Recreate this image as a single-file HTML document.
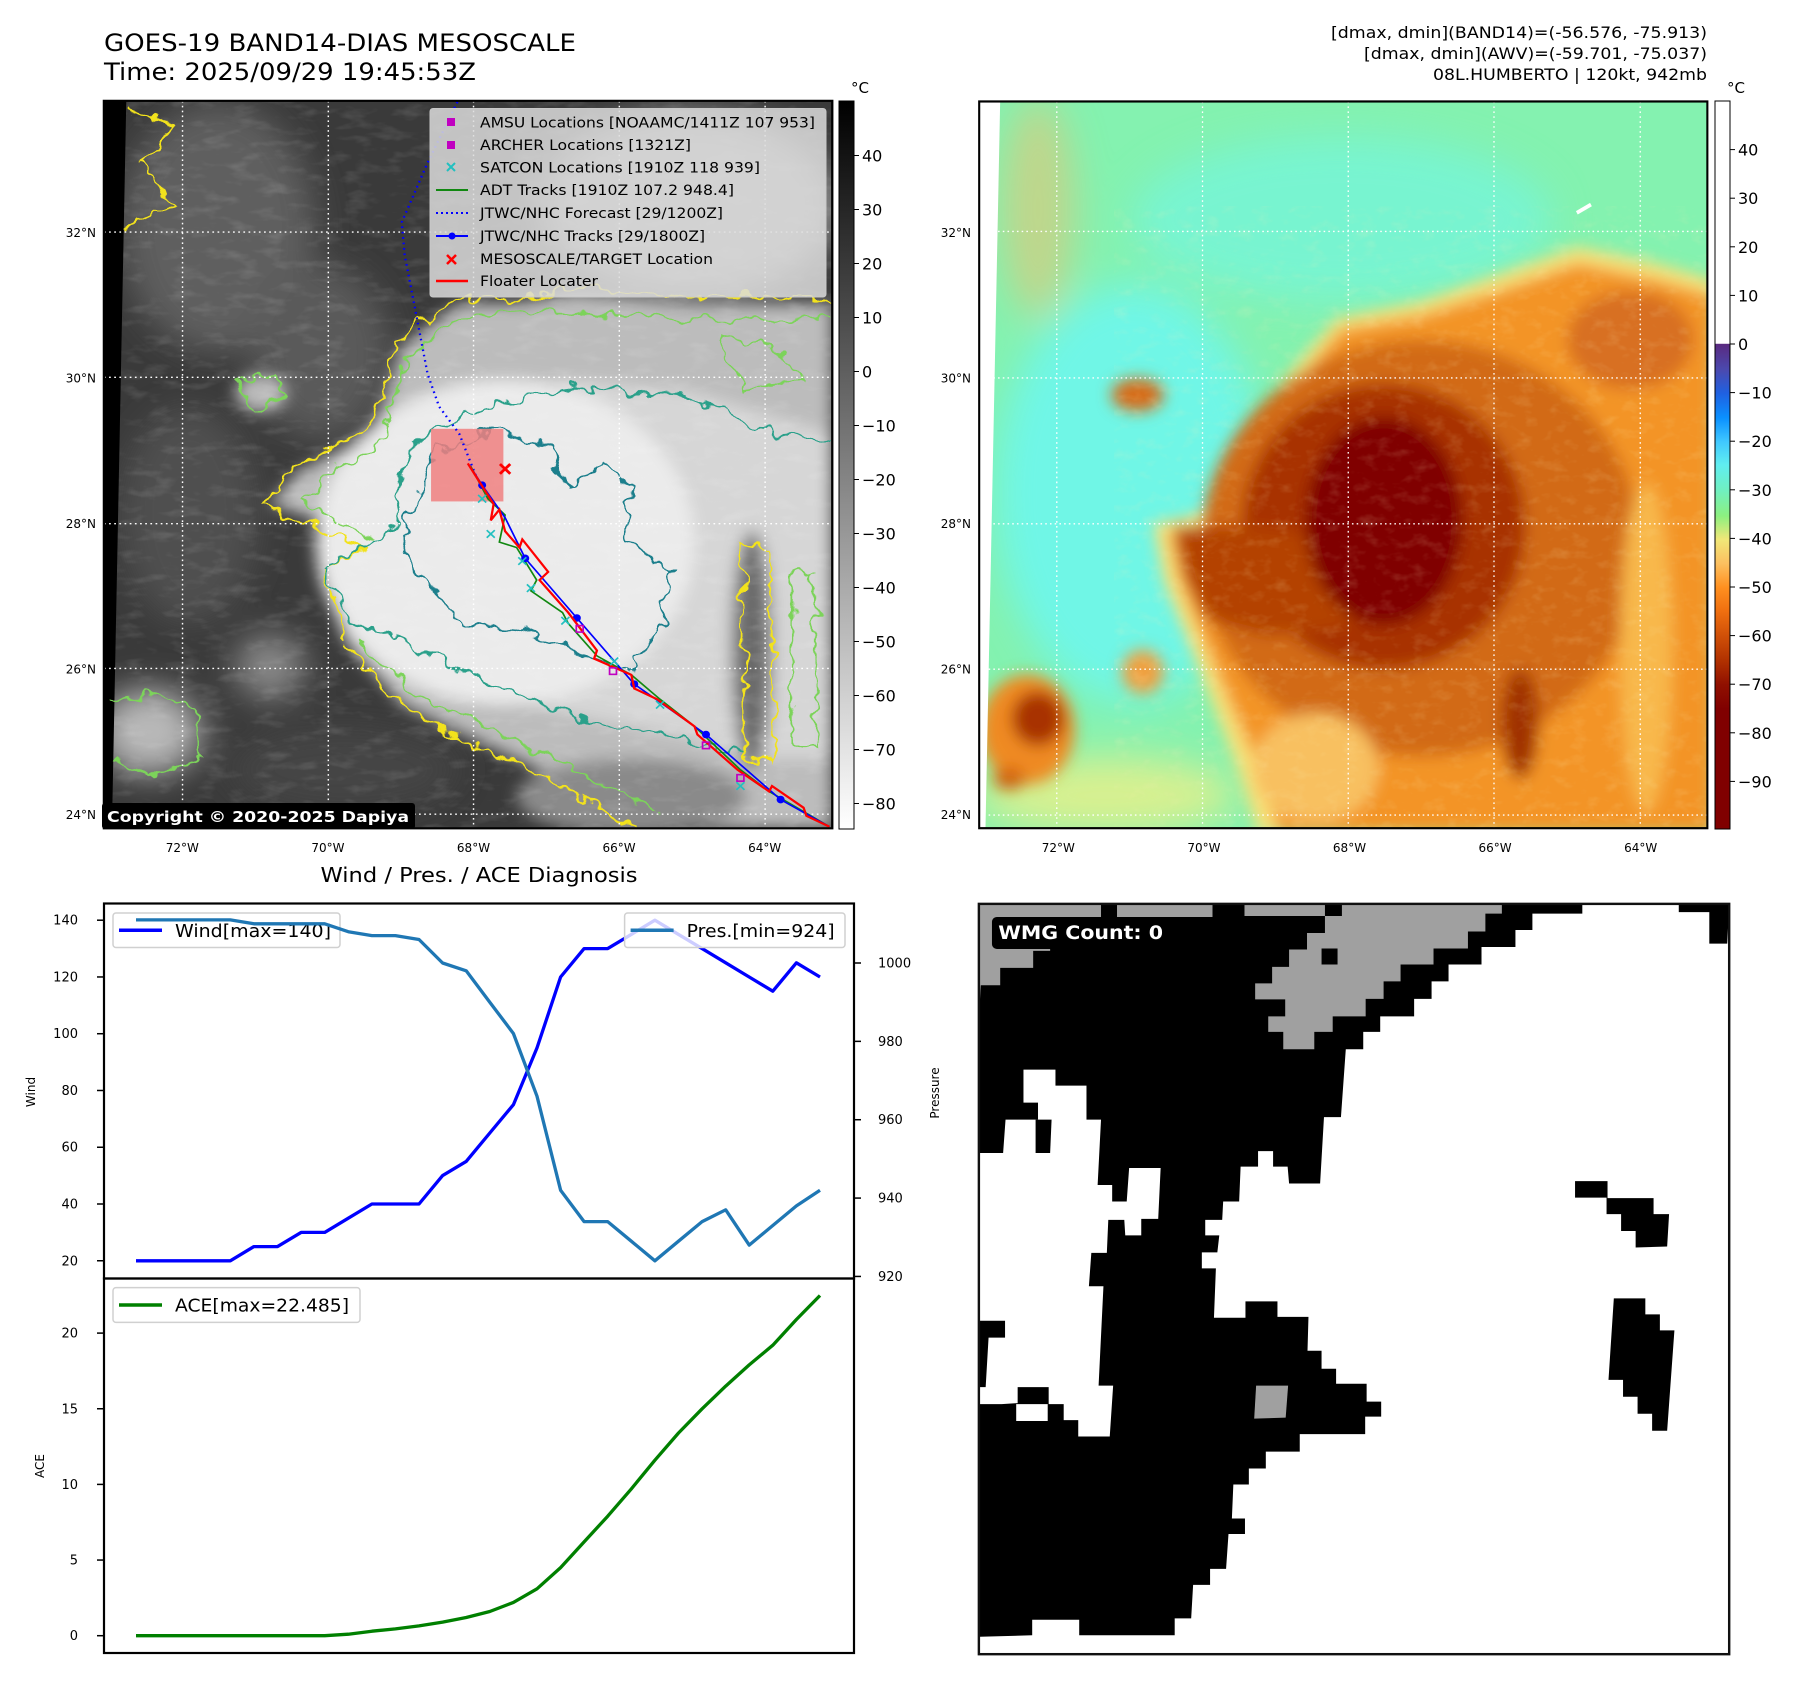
<!DOCTYPE html>
<html><head><meta charset="utf-8">
<style>
html,body{margin:0;padding:0;background:#fff;}
body{width:1797px;height:1690px;position:relative;overflow:hidden;font-family:"DejaVu Sans","Liberation Sans",sans-serif;}
svg{position:absolute;}
text{font-family:"DejaVu Sans","Liberation Sans",sans-serif;}
</style></head>
<body>

<!-- LEFT MAP (grayscale IR) -->
<svg style="left:0;top:0" width="900" height="850" viewBox="0 0 1568 1568" preserveAspectRatio="none">
<defs>
<clipPath id="clipL"><rect x="181" y="186" width="1269" height="1342"/></clipPath>
<filter id="bL" x="-20%" y="-20%" width="140%" height="140%"><feGaussianBlur stdDeviation="14"/></filter>
<filter id="bL2" x="-20%" y="-20%" width="140%" height="140%"><feGaussianBlur stdDeviation="30"/></filter>
<filter id="wig" x="-5%" y="-5%" width="110%" height="110%"><feTurbulence type="fractalNoise" baseFrequency="0.035" numOctaves="2" seed="3"/><feDisplacementMap in="SourceGraphic" scale="40" xChannelSelector="R" yChannelSelector="G"/></filter>
<filter id="noiseL"><feTurbulence type="fractalNoise" baseFrequency="0.02 0.05" numOctaves="3" seed="7"/><feColorMatrix type="matrix" values="0 0 0 0 1  0 0 0 0 1  0 0 0 0 1  0 0 0 1.2 -0.6"/></filter>
</defs>
<g clip-path="url(#clipL)">
<rect x="181" y="186" width="1269" height="1342" fill="#3a3a3a"/>
<g filter="url(#bL2)">
<ellipse cx="380" cy="420" rx="170" ry="230" fill="#5e5e5e"/>
<ellipse cx="560" cy="650" rx="120" ry="160" fill="#5a5a5a"/>
<ellipse cx="1200" cy="380" rx="260" ry="170" fill="#9a9a9a"/>
<ellipse cx="330" cy="950" rx="120" ry="200" fill="#505050"/>
<ellipse cx="260" cy="1350" rx="90" ry="80" fill="#b8b8b8"/>
<ellipse cx="470" cy="1230" rx="60" ry="60" fill="#8a8a8a"/>
<ellipse cx="600" cy="1420" rx="200" ry="80" fill="#444"/>
</g>
<g filter="url(#bL)">
<path d="M640 1000 L560 960 L470 930 L520 870 L650 800 L700 640 L800 560 L900 560 L1000 540 L1200 560 L1450 560 L1450 1528 L1120 1528 L1000 1450 L800 1350 L700 1300 L600 1180 L560 1050 Z" fill="#bcbcbc"/>
<path d="M700 960 L640 900 L700 800 L820 740 L1000 700 L1200 720 L1450 800 L1450 1400 L1300 1400 L1200 1360 L1000 1320 L850 1280 L700 1200 L620 1100 Z" fill="#d6d6d6"/>
<ellipse cx="880" cy="1000" rx="330" ry="300" fill="#ebebeb"/>
<ellipse cx="1310" cy="1200" rx="35" ry="220" fill="#6a6a6a"/>
<ellipse cx="1100" cy="1470" rx="200" ry="70" fill="#8a8a8a"/>
<ellipse cx="455" cy="725" rx="45" ry="35" fill="#bbb"/>
</g>
<rect x="181" y="186" width="1269" height="1342" filter="url(#noiseL)" opacity="0.25"/>
<path d="M220 186 L181 186 L181 1528 L195 1528 Z" fill="#000"/>
<!-- contours -->
<g fill="none" stroke-width="4" filter="url(#wig)">
<path d="M630 1010 L550 970 L460 930 L515 860 L645 790 L690 630 L795 550 L900 550 L1000 530 L1200 548 L1450 548" stroke="#f2e21c"/>
<path d="M600 1180 L560 1050 L640 1010" stroke="#f2e21c"/>
<path d="M600 1190 L700 1300 L800 1360 L1000 1460 L1100 1528" stroke="#f2e21c"/>
<path d="M650 995 L580 960 L530 930 L560 880 L660 820 L710 660 L800 585 L950 575 L1200 590 L1450 590" stroke="#7cd35a"/>
<path d="M620 1180 L720 1280 L850 1340 L1000 1420 L1150 1500" stroke="#7cd35a"/>
<path d="M700 960 L690 900 L720 820 L820 760 L1000 715 L1200 730 L1320 790 L1450 820" stroke="#2aa08a"/>
<path d="M700 960 L650 1000 L560 1050 L610 1140 L720 1190 L850 1260 L1000 1320 L1150 1360 L1300 1390" stroke="#2aa08a"/>
<path d="M720 940 L760 830 L870 790 L960 830 L990 900 L1050 850 L1100 900 L1090 1000 L1170 1050 L1150 1150 L1100 1240 L1000 1200 L900 1160 L800 1150 L770 1100 L720 1050 L700 980 Z" stroke="#1f7f8c"/>
<path d="M190 1300 L260 1280 L340 1300 L350 1400 L260 1430 L200 1400" stroke="#7cd35a"/>
<path d="M410 700 L470 690 L500 730 L440 760 Z" stroke="#7cd35a"/>
<path d="M1290 1000 L1340 1010 L1350 1400 L1300 1400 Z" stroke="#f2e21c"/>
<path d="M1380 1050 L1420 1060 L1420 1380 L1380 1380 Z" stroke="#7cd35a"/>
<path d="M220 200 L300 230 L250 300 L300 380 L220 420" stroke="#f2e21c"/>
<path d="M1250 620 L1350 640 L1400 700 L1300 720 Z" stroke="#7cd35a"/>
</g>
<!-- gridlines -->
<g stroke="#fff" stroke-width="2.5" stroke-dasharray="3 6">
<line x1="181" y1="428" x2="1450" y2="428"/><line x1="181" y1="696" x2="1450" y2="696"/><line x1="181" y1="966" x2="1450" y2="966"/><line x1="181" y1="1233" x2="1450" y2="1233"/><line x1="181" y1="1502" x2="1450" y2="1502"/>
<line x1="318" y1="186" x2="318" y2="1528"/><line x1="572" y1="186" x2="572" y2="1528"/><line x1="825" y1="186" x2="825" y2="1528"/><line x1="1079" y1="186" x2="1079" y2="1528"/><line x1="1333" y1="186" x2="1333" y2="1528"/>
</g>
<rect x="751" y="791" width="126" height="134" fill="#f08080" opacity="0.85"/>
<polyline points="797,188 745,300 700,410 705,470 745,690 765,750 800,800 830,880" fill="none" stroke="#0000ff" stroke-width="4" stroke-dasharray="3 7"/>
<polyline points="820,860 850,920 880,950 870,1000 900,1010 935,1070 925,1090 980,1130 990,1150 1040,1210 1100,1245 1150,1290 1210,1340 1290,1420 1340,1460 1445,1525" fill="none" stroke="#118811" stroke-width="3"/>
<polyline points="825,870 840,895 880,955 915,1030 1005,1140 1105,1262 1230,1355 1360,1475 1445,1525" fill="none" stroke="#0000ff" stroke-width="3"/>
<g fill="#0000ff"><circle cx="840" cy="895" r="7"/><circle cx="915" cy="1030" r="7"/><circle cx="1005" cy="1140" r="7"/><circle cx="1105" cy="1262" r="7"/><circle cx="1230" cy="1355" r="7"/><circle cx="1360" cy="1475" r="7"/></g>
<polyline points="815,855 860,930 855,960 870,940 880,980 905,1010 910,995 955,1055 940,1070 990,1130 1040,1200 1035,1215 1100,1245 1105,1270 1145,1290 1210,1340 1215,1355 1285,1420 1340,1460 1345,1450 1400,1490 1405,1505 1445,1525" fill="none" stroke="#ff0000" stroke-width="4"/>
<g stroke="#22c0c0" stroke-width="3">
<path d="M833 913 l14 14 M847 913 l-14 14 M848 978 l14 14 M862 978 l-14 14 M903 1028 l14 14 M917 1028 l-14 14 M918 1078 l14 14 M932 1078 l-14 14 M978 1138 l14 14 M992 1138 l-14 14 M1063 1213 l14 14 M1077 1213 l-14 14 M1143 1293 l14 14 M1157 1293 l-14 14 M1283 1443 l14 14 M1297 1443 l-14 14"/>
</g>
<g fill="none" stroke="#c000c0" stroke-width="3"><rect x="1004" y="1154" width="12" height="12"/><rect x="1062" y="1232" width="12" height="12"/><rect x="1224" y="1369" width="12" height="12"/><rect x="1284" y="1429" width="12" height="12"/></g>
<path d="M871 856 l18 18 M889 856 l-18 18" stroke="#ff0000" stroke-width="5"/>
</g>
<rect x="181" y="186" width="1269" height="1342" fill="none" stroke="#000" stroke-width="4"/>
</svg>

<!-- RIGHT MAP (colour enhanced) -->
<svg style="left:975px;top:0" width="822" height="860" viewBox="0 0 1568 1568" preserveAspectRatio="none">
<defs>
<clipPath id="clipR"><rect x="8" y="185" width="1389" height="1325"/></clipPath>
<filter id="bR" x="-20%" y="-20%" width="140%" height="140%"><feGaussianBlur stdDeviation="14"/></filter>
<filter id="bR2" x="-20%" y="-20%" width="140%" height="140%"><feGaussianBlur stdDeviation="35"/></filter>
<filter id="noiseR"><feTurbulence type="fractalNoise" baseFrequency="0.03 0.05" numOctaves="3" seed="11"/><feColorMatrix type="matrix" values="0 0 0 0 1  0 0 0 0 0.9  0 0 0 0 0.5  0 0 0 1.2 -0.6"/></filter>
</defs>
<g clip-path="url(#clipR)">
<rect x="8" y="185" width="1389" height="1325" fill="#84f2b0"/>
<g filter="url(#bR2)">
<ellipse cx="300" cy="900" rx="260" ry="380" fill="#70f6e6"/>
<ellipse cx="700" cy="400" rx="400" ry="150" fill="#78f4d0"/>
<ellipse cx="120" cy="380" rx="70" ry="200" fill="#f0c070" opacity="0.55"/>
<ellipse cx="250" cy="1450" rx="250" ry="70" fill="#d8f090"/>
</g>
<g filter="url(#bR)">
<path d="M590 690 L690 580 L850 550 L1000 500 L1150 450 L1300 480 L1410 510 L1410 1520 L540 1520 L500 1400 L420 1200 L360 1060 L340 955 L420 940 L510 870 L550 770 Z" fill="#f8e078"/>
<path d="M610 700 L700 600 L850 575 L1000 530 L1150 480 L1300 510 L1410 540 L1410 1520 L580 1520 L540 1400 L450 1200 L390 1060 L370 970 L440 960 L530 880 L570 780 Z" fill="#f39428"/>
<ellipse cx="850" cy="1000" rx="420" ry="380" fill="#d26a18"/>
<ellipse cx="1250" cy="620" rx="120" ry="90" fill="#d87020"/>
<ellipse cx="780" cy="960" rx="270" ry="260" fill="#a83200"/>
<path d="M380 960 L520 960 L700 980 L720 1140 L560 1160 L440 1130 L400 1050 Z" fill="#b44200"/>
<ellipse cx="780" cy="950" rx="150" ry="190" fill="#800000"/>
<ellipse cx="1280" cy="1180" rx="50" ry="300" fill="#f8b84c"/>
<ellipse cx="650" cy="1400" rx="120" ry="100" fill="#f8c060"/>
<ellipse cx="1040" cy="1320" rx="35" ry="100" fill="#a03000"/>
<ellipse cx="100" cy="1330" rx="90" ry="100" fill="#ef8a20"/>
<ellipse cx="120" cy="1310" rx="50" ry="50" fill="#a83000"/>
<ellipse cx="65" cy="1420" rx="30" ry="20" fill="#d06010"/>
<ellipse cx="310" cy="720" rx="50" ry="30" fill="#d86a18"/>
<ellipse cx="320" cy="1225" rx="40" ry="40" fill="#f0a040"/>
</g>
<path d="M610 700 L700 600 L850 575 L1000 530 L1150 480 L1300 510 L1410 540 L1410 1520 L580 1520 L540 1400 L450 1200 L390 1060 L370 970 L440 960 L530 880 L570 780 Z" filter="url(#noiseR)" opacity="0.3"/>
<path d="M8 185 L48 185 L20 1510 L8 1510 Z" fill="#fff"/>
<path d="M1148 388 L1175 373" stroke="#fff" stroke-width="7"/>
<g stroke="#fff" stroke-width="2.5" stroke-dasharray="3 6">
<line x1="8" y1="422" x2="1397" y2="422"/><line x1="8" y1="689" x2="1397" y2="689"/><line x1="8" y1="955" x2="1397" y2="955"/><line x1="8" y1="1220" x2="1397" y2="1220"/><line x1="8" y1="1486" x2="1397" y2="1486"/>
<line x1="156" y1="185" x2="156" y2="1510"/><line x1="434" y1="185" x2="434" y2="1510"/><line x1="712" y1="185" x2="712" y2="1510"/><line x1="990" y1="185" x2="990" y2="1510"/><line x1="1269" y1="185" x2="1269" y2="1510"/>
</g>
</g>
<rect x="8" y="185" width="1389" height="1325" fill="none" stroke="#000" stroke-width="4"/>
</svg>

<!-- WMG PANEL -->
<svg style="left:975px;top:900px" width="760" height="760" viewBox="0 0 1568 1568" preserveAspectRatio="none">
<rect x="8" y="8" width="1548" height="1548" fill="#fff"/>
<path fill="#000" d="M8 8 L1253 8 L1253 28 L1150 28 L1150 62 L1115 62 L1115 97 L1045 97 L1045 133 L977 133 L977 168 L942 168 L942 204 L906 204 L906 240 L836 240 L836 272 L801 272 L801 308 L765 308 L755 448 L720 448 L712 585 L648 585 L645 550 L615 550 L615 518 L584 518 L584 550 L548 550 L545 622 L512 622 L510 660 L475 660 L475 692 L504 692 L500 727 L468 727 L468 760 L497 760 L493 862 L558 862 L558 828 L624 828 L624 860 L688 860 L686 930 L715 930 L715 967 L745 967 L745 998 L808 998 L808 1035 L838 1035 L838 1066 L805 1066 L805 1102 L670 1102 L670 1138 L600 1138 L600 1173 L565 1173 L565 1206 L533 1206 L530 1276 L557 1276 L557 1308 L523 1308 L518 1380 L485 1380 L485 1413 L450 1413 L446 1482 L412 1482 L412 1517 L215 1517 L215 1485 L118 1485 L118 1517 L10 1520 L8 1520 Z"/>
<path fill="#fff" d="M100 350 L166 350 L166 383 L230 383 L230 453 L260 453 L253 588 L283 588 L283 622 L313 622 L318 553 L383 553 L378 658 L343 658 L343 692 L310 692 L308 660 L275 660 L272 728 L240 728 L235 797 L265 797 L255 1002 L285 1002 L278 1107 L213 1107 L213 1073 L183 1073 L183 1040 L152 1040 L152 1005 L88 1005 L88 1038 L55 1040 L10 1040 L10 1005 L22 1005 L28 903 L62 903 L62 868 L10 868 L10 522 L58 522 L63 453 L130 453 L130 418 L100 418 Z"/>
<path fill="#000" d="M125 453 L158 453 L155 522 L125 522 Z"/>
<path fill="#fff" d="M85 1040 L150 1040 L150 1075 L85 1075 Z"/>
<path fill="#000" d="M1452 8 L1556 8 L1552 90 L1515 90 L1515 25 L1452 25 Z"/>
<path fill="#000" d="M1238 580 L1305 580 L1305 615 L1400 615 L1400 648 L1432 648 L1428 715 L1363 717 L1363 683 L1333 683 L1333 648 L1303 648 L1303 614 L1238 614 Z"/>
<path fill="#000" d="M1318 822 L1383 822 L1383 855 L1413 855 L1413 888 L1443 888 L1428 1095 L1397 1095 L1397 1060 L1367 1060 L1367 1025 L1337 1025 L1337 990 L1307 990 Z"/>
<g fill="#a0a0a0">
<path d="M8 8 L260 8 L260 35 L155 35 L155 105 L120 105 L120 140 L52 140 L52 176 L12 176 L10 210 L8 210 Z"/>
<path d="M293 8 L490 8 L490 35 L293 35 Z"/>
<path d="M556 8 L722 8 L722 33 L556 33 Z"/>
<path d="M757 8 L1087 8 L1087 28 L1053 28 L1053 65 L1017 65 L1017 100 L946 100 L946 133 L878 133 L878 168 L843 168 L843 204 L806 204 L806 240 L738 240 L738 272 L700 272 L700 308 L636 308 L636 272 L605 272 L605 240 L640 240 L640 205 L578 205 L578 172 L613 172 L613 138 L648 138 L648 102 L685 102 L685 68 L722 68 L722 33 L757 33 Z"/>
<path d="M580 1002 L646 1002 L641 1068 L576 1070 Z"/>
</g>
<path fill="#000" d="M715 100 L748 100 L748 133 L715 133 Z"/>
<g>
<rect x="35" y="35" width="360" height="66" rx="10" fill="#000"/>
<text x="48" y="80" font-size="38" font-weight="bold" fill="#fff" textLength="340" lengthAdjust="spacingAndGlyphs">WMG Count: 0</text>
</g>
<rect x="8" y="8" width="1548" height="1548" fill="none" stroke="#111" stroke-width="5"/>
</svg>

<!-- OVERLAY: texts, colourbars, chart -->
<svg id="main" style="left:0;top:0" width="1797" height="1690" viewBox="0 0 1797 1690">
<text x="104" y="51" font-size="24" textLength="472" lengthAdjust="spacingAndGlyphs">GOES-19 BAND14-DIAS MESOSCALE</text>
<text x="104" y="80" font-size="24" textLength="372" lengthAdjust="spacingAndGlyphs">Time: 2025/09/29 19:45:53Z</text>
<g font-size="16" text-anchor="end">
<text x="1707" y="38" textLength="376" lengthAdjust="spacingAndGlyphs">[dmax, dmin](BAND14)=(-56.576, -75.913)</text>
<text x="1707" y="59" textLength="343" lengthAdjust="spacingAndGlyphs">[dmax, dmin](AWV)=(-59.701, -75.037)</text>
<text x="1707" y="80" textLength="274" lengthAdjust="spacingAndGlyphs">08L.HUMBERTO | 120kt, 942mb</text>
</g>

<!-- legend left map -->
<g>
<rect x="430" y="108.5" width="396" height="188.5" rx="3" fill="#dcdcdc" fill-opacity="0.85" stroke="#c8c8c8"/>
<g font-size="14.5">
<rect x="447" y="118" width="8" height="8" fill="#c000c0"/><text x="480" y="127.5" textLength="335" lengthAdjust="spacingAndGlyphs">AMSU Locations [NOAAMC/1411Z 107 953]</text>
<rect x="447" y="141" width="8" height="8" fill="#c000c0"/><text x="480" y="150" textLength="211" lengthAdjust="spacingAndGlyphs">ARCHER Locations [1321Z]</text>
<path d="M447 163 l8 8 M455 163 l-8 8" stroke="#22c0c0" stroke-width="2"/><text x="480" y="172.5" textLength="280" lengthAdjust="spacingAndGlyphs">SATCON Locations [1910Z 118 939]</text>
<line x1="436" y1="190" x2="468" y2="190" stroke="#118811" stroke-width="2"/><text x="480" y="195" textLength="254" lengthAdjust="spacingAndGlyphs">ADT Tracks [1910Z 107.2 948.4]</text>
<line x1="436" y1="213" x2="468" y2="213" stroke="#0000ff" stroke-width="2" stroke-dasharray="2 3"/><text x="480" y="218" textLength="243" lengthAdjust="spacingAndGlyphs">JTWC/NHC Forecast [29/1200Z]</text>
<line x1="436" y1="236" x2="468" y2="236" stroke="#0000ff" stroke-width="2"/><circle cx="452" cy="236" r="3.5" fill="#0000ff"/><text x="480" y="241" textLength="225" lengthAdjust="spacingAndGlyphs">JTWC/NHC Tracks [29/1800Z]</text>
<path d="M447 255 l9 9 M456 255 l-9 9" stroke="#ff0000" stroke-width="2.5"/><text x="480" y="264" textLength="233" lengthAdjust="spacingAndGlyphs">MESOSCALE/TARGET Location</text>
<line x1="436" y1="281" x2="468" y2="281" stroke="#ff0000" stroke-width="2.5"/><text x="480" y="286" textLength="118" lengthAdjust="spacingAndGlyphs">Floater Locater</text>
</g></g>
<g>
<rect x="102" y="803" width="313" height="26" rx="3" fill="#000"/>
<text x="107" y="822" font-size="15.5" font-weight="bold" fill="#fff" textLength="302" lengthAdjust="spacingAndGlyphs">Copyright © 2020-2025 Dapiya</text>
</g>

<defs>
<linearGradient id="gray" x1="0" y1="0" x2="0" y2="1"><stop offset="0" stop-color="#000"/><stop offset="1" stop-color="#fff"/></linearGradient>
<linearGradient id="awv" x1="0" y1="0" x2="0" y2="1">
<stop offset="0" stop-color="#fff"/><stop offset="0.333" stop-color="#fff"/>
<stop offset="0.334" stop-color="#5a2a80"/><stop offset="0.37" stop-color="#4a4ab0"/><stop offset="0.401" stop-color="#2060e0"/><stop offset="0.435" stop-color="#0a90ff"/><stop offset="0.468" stop-color="#40c8ff"/><stop offset="0.5" stop-color="#60eef0"/><stop offset="0.535" stop-color="#70f0c0"/><stop offset="0.57" stop-color="#8cf080"/><stop offset="0.602" stop-color="#f0e878"/><stop offset="0.635" stop-color="#fcc060"/><stop offset="0.668" stop-color="#ff9020"/><stop offset="0.70" stop-color="#f07010"/><stop offset="0.735" stop-color="#d05008"/><stop offset="0.77" stop-color="#b03000"/><stop offset="0.802" stop-color="#901000"/><stop offset="0.835" stop-color="#800000"/><stop offset="1" stop-color="#800000"/>
</linearGradient>
</defs>
<rect x="839" y="101" width="15" height="728" fill="url(#gray)" stroke="#000" stroke-width="1"/>
<rect x="1715" y="101" width="15" height="728" fill="url(#awv)" stroke="#000" stroke-width="1"/>
<text x="851" y="93" font-size="15">°C</text>
<text x="1727" y="93" font-size="15">°C</text>
<g id="cbL" font-size="16"></g>
<g id="cbR" font-size="16"></g>
<g id="mapticks" font-size="12"></g>

<!-- chart -->
<text x="479" y="882" font-size="20" text-anchor="middle" textLength="317" lengthAdjust="spacingAndGlyphs">Wind / Pres. / ACE Diagnosis</text>
<g id="chart"></g>
</svg>

<script>
// ---- chart data ----
const times = [0,1,2,3,4,5,6,7,8,9,10,11,12,13,14,15,16,17,18,19,20,21,22,23,24,25,26,27,28,29];
const windValues = [20,20,20,20,20,25,25,30,30,35,40,40,40,50,55,65,75,95,120,130,130,135,140,135,130,125,120,115,125,120];
const presValues = [1011,1011,1011,1011,1011,1010,1010,1010,1010,1008,1007,1007,1006,1000,998,990,982,966,942,934,934,929,924,929,934,937,928,933,938,942];
const aceValues = [0,0,0,0,0,0,0,0,0,0.1,0.3,0.45,0.65,0.9,1.2,1.6,2.2,3.1,4.5,6.2,7.9,9.7,11.6,13.4,15.0,16.5,17.9,19.2,20.9,22.485];
const windTicks = [20,40,60,80,100,120,140];
const presTicks = [920,940,960,980,1000];
const aceTicks = [0,5,10,15,20];
const cbLeftTicks = [40,30,20,10,0,-10,-20,-30,-40,-50,-60,-70,-80];
const cbRightTicks = [40,30,20,10,0,-10,-20,-30,-40,-50,-60,-70,-80,-90];
const latTicks = [32,30,28,26,24];
const lonTicks = [72,70,68,66,64];

const NS='http://www.w3.org/2000/svg';
function mk(tag, attrs, parent){const e=document.createElementNS(NS,tag);for(const k in attrs)e.setAttribute(k,attrs[k]);parent.appendChild(e);return e;}
function lbl(v){return (v<0?'\u2212':'')+Math.abs(v);}

const L=104,R=854,T1=903.5,M=1278.5,B=1653;
const xS=i=>136+(i-times[0])*(684/(times.length-1));
const yW=v=>920.2+(140-v)*2.838;
const yP=p=>963+(1000-p)*3.918;
const yA=a=>1635.7-a*15.13;

const chart=document.getElementById('chart');
let f1=mk('rect',{x:L,y:T1,width:R-L,height:M-T1,fill:'none',stroke:'#000','stroke-width':2.2},chart);


let f2=mk('rect',{x:L,y:M,width:R-L,height:B-M,fill:'none',stroke:'#000','stroke-width':2.2},chart);



windTicks.forEach(v=>{const y=yW(v);
 const t=mk('line',{x1:L-7,x2:L,y1:y,y2:y,stroke:'#000','stroke-width':1.5},chart);
 
 
 const tx=mk('text',{x:L-26,y:y+4.5,'font-size':13,'text-anchor':'end'},chart);tx.textContent=v;
 
 });
presTicks.forEach(v=>{const y=yP(v);
 const t=mk('line',{x1:R,x2:R+7,y1:y,y2:y,stroke:'#000','stroke-width':1.5},chart);
 
 
 const tx=mk('text',{x:R+24,y:y+4.5,'font-size':13},chart);tx.textContent=v;
 
 });
aceTicks.forEach(v=>{const y=yA(v);
 const t=mk('line',{x1:L-7,x2:L,y1:y,y2:y,stroke:'#000','stroke-width':1.5},chart);
 
 
 const tx=mk('text',{x:L-26,y:y+4.5,'font-size':13,'text-anchor':'end'},chart);tx.textContent=v;
 
 });

let al=mk('text',{x:0,y:0,'font-size':12,'text-anchor':'middle',transform:'translate(35,1092) rotate(-90)'},chart);al.textContent='Wind';


al=mk('text',{x:0,y:0,'font-size':12,'text-anchor':'middle',transform:'translate(939,1093) rotate(-90)'},chart);al.textContent='Pressure';


al=mk('text',{x:0,y:0,'font-size':12,'text-anchor':'middle',transform:'translate(44,1466) rotate(-90)'},chart);al.textContent='ACE';



function legend(x,y,w,h,color,label,tl,name){
 const g=mk('g',{},chart);
 
 
 mk('rect',{x:x,y:y,width:w,height:h,rx:3,fill:'#fff','fill-opacity':0.8,stroke:'#d0d0d0','stroke-width':1.5},g);
 mk('line',{x1:x+6,x2:x+49,y1:y+h/2,y2:y+h/2,stroke:color,'stroke-width':3.5},g);
 const t=mk('text',{x:x+62,y:y+h/2+6.5,'font-size':18,textLength:tl,lengthAdjust:'spacingAndGlyphs'},g);t.textContent=label;
}
function line(vals,ys,color,name){
 const pts=vals.map((v,i)=>xS(times[i]).toFixed(1)+','+ys(v).toFixed(1)).join(' ');
 const p=mk('polyline',{points:pts,fill:'none',stroke:color,'stroke-width':3.3,'stroke-linejoin':'round'},chart);
 
 
}
legend(113,913,227,34.5,'#0000ff','Wind[max='+Math.max(...windValues)+']',156,'wind-legend');
line(windValues,yW,'#0000ff','wind-line');
legend(624.6,913,220.4,34.5,'#1f77b4','Pres.[min='+Math.min(...presValues)+']',148,'pressure-legend');
line(presValues,yP,'#1f77b4','pressure-line');
legend(113,1287.6,247,34.8,'#008000','ACE[max='+Math.max(...aceValues)+']',174,'ace-legend');
line(aceValues,yA,'#008000','ace-line');

const cbL=document.getElementById('cbL');
cbLeftTicks.forEach(v=>{const y=371.5-v*5.4;
 mk('line',{x1:854,x2:859,y1:y,y2:y,stroke:'#000'},cbL);
 const t=mk('text',{x:862,y:y+6},cbL);t.textContent=lbl(v);
 
 });
const cbR=document.getElementById('cbR');
cbRightTicks.forEach(v=>{const y=344-v*4.86;
 mk('line',{x1:1730,x2:1735,y1:y,y2:y,stroke:'#000'},cbR);
 const t=mk('text',{x:1738,y:y+6},cbR);t.textContent=lbl(v);
 
 });

const mt=document.getElementById('mapticks');
const latY=lat=>524-(lat-28)*72.8;
const lonXL=lon=>473.5+(68-lon)*72.8;
[[0,96],[876,971]].forEach(([dx,ax])=>{
 latTicks.forEach(la=>{const t=mk('text',{x:ax,y:latY(la)+4,'text-anchor':'end'},mt);t.textContent=la+'°N';
  
  });
 lonTicks.forEach(lo=>{const t=mk('text',{x:lonXL(lo)+dx,y:852,'text-anchor':'middle'},mt);t.textContent=lo+'°W';
  
  });
});
</script>
</body></html>
